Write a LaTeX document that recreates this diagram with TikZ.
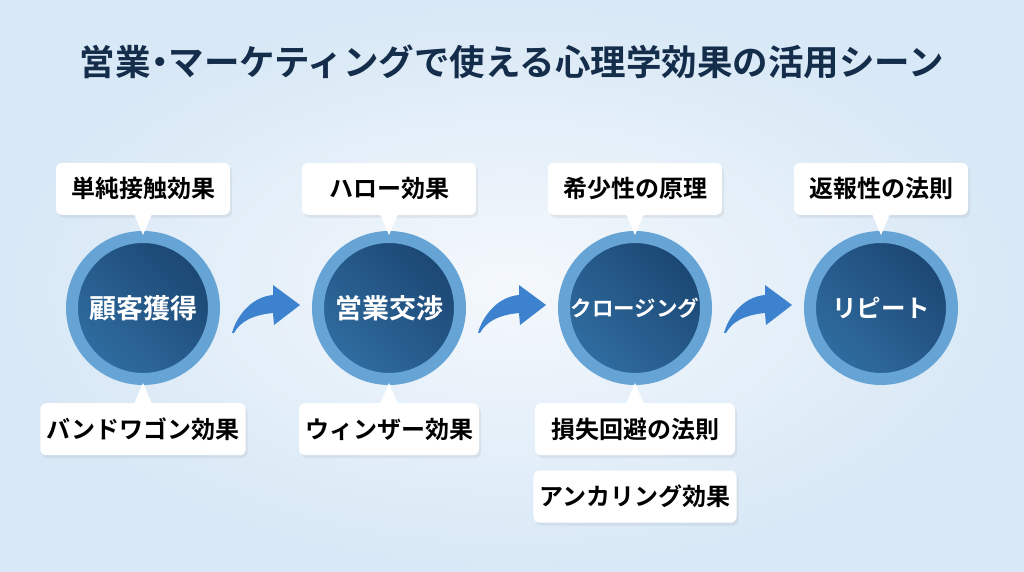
\documentclass[tikz,border=0pt]{standalone}
\usepackage{fontspec}
\newfontfamily\jp{Noto Sans CJK JP}[BoldFont={Noto Sans CJK JP Bold}]
\usetikzlibrary{positioning, shadows, calc}

\definecolor{titleblue}{HTML}{142D4B}
\definecolor{bgmid}{HTML}{F4F8FC}
\definecolor{bgedge}{HTML}{D8E8F6}
\definecolor{ringblue}{HTML}{66A4D5}
\definecolor{corelight}{HTML}{306DA1}
\definecolor{coredark}{HTML}{1B4672}
\definecolor{arrowblue}{HTML}{3D82CF}

\begin{document}
\begin{tikzpicture}[
                x=1pt, y=1pt,
                title/.style={text=titleblue, font=\jp\bfseries\fontsize{35.5}{40}\selectfont},
                stage/.style={circle, minimum size=142pt, inner sep=0pt, draw=ringblue, line width=12pt,
                              left color=corelight, right color=coredark, shading angle=135,
                              text=white, font=\jp\bfseries\fontsize{27}{32}\selectfont},
                tag/.style={rectangle, rounded corners=6pt, fill=white, minimum width=174pt, minimum height=52pt,
                            inner xsep=6pt, text=black, font=\jp\bfseries\fontsize{24}{28}\selectfont,
                            drop shadow={opacity=0.12, shadow xshift=2pt, shadow yshift=-3pt}},
                pointer/.style={fill=white},
                flow/.style={fill=arrowblue},
                flowarrow/.pic={
                    \fill[flow] (0,0) .. controls (4,15) and (18,36) .. (41,38) -- (41,48) -- (68,28)
                        -- (42,8) -- (41,20) .. controls (20,18) and (8,11) .. (2,0) -- cycle;
                }
            ]

            % Hintergrund
            \useasboundingbox (0,0) rectangle (1024,572);
            \shade[inner color=bgmid, outer color=bgedge] (0,0) rectangle (1024,572);

            % Titel
            \node[title] (ttl) at (512,510) {営業\kern-0.25em・\kern-0.25emマーケティングで使える心理学効果の活用シーン};

            % Stufen
            \node[stage] (s1) at (143,264) {顧客獲得};
            \node[stage] (s2) at (389,264) {営業交渉};
            \node[stage, font=\jp\bfseries\fontsize{21.5}{26}\selectfont] (s3) at (635,264) {クロージング};
            \node[stage, font=\jp\bfseries\fontsize{24.5}{29}\selectfont] (s4) at (881,264) {リピート};

            % Effekte oben
            \node[tag, above=16pt of s1] (t1) {単純接触効果};
            \node[tag, above=16pt of s2] (t2) {ハロー効果};
            \node[tag, above=16pt of s3] (t3) {希少性の原理};
            \node[tag, above=16pt of s4] (t4) {返報性の法則};

            % Effekte unten
            \node[tag, below=18pt of s1] (b1) {バンドワゴン効果};
            \node[tag, below=18pt of s2] (b2) {ウィンザー効果};
            \node[tag, minimum width=200pt, below=18pt of s3] (b3) {損失回避の法則};
            \node[tag, minimum width=200pt, below=15pt of b3] (b4) {アンカリング効果};

            % Spitzen an den Kaesten
            \fill[pointer] ([xshift=-9pt, yshift=1pt]t1.south) -- ([xshift=9pt, yshift=1pt]t1.south) -- ([yshift=-20pt]t1.south) -- cycle;
            \fill[pointer] ([xshift=-9pt, yshift=1pt]t2.south) -- ([xshift=9pt, yshift=1pt]t2.south) -- ([yshift=-20pt]t2.south) -- cycle;
            \fill[pointer] ([xshift=-9pt, yshift=1pt]t3.south) -- ([xshift=9pt, yshift=1pt]t3.south) -- ([yshift=-20pt]t3.south) -- cycle;
            \fill[pointer] ([xshift=-9pt, yshift=1pt]t4.south) -- ([xshift=9pt, yshift=1pt]t4.south) -- ([yshift=-20pt]t4.south) -- cycle;

            \fill[pointer] ([xshift=-9pt, yshift=-1pt]b1.north) -- ([xshift=9pt, yshift=-1pt]b1.north) -- ([yshift=20pt]b1.north) -- cycle;
            \fill[pointer] ([xshift=-9pt, yshift=-1pt]b2.north) -- ([xshift=9pt, yshift=-1pt]b2.north) -- ([yshift=20pt]b2.north) -- cycle;
            \fill[pointer] ([xshift=-9pt, yshift=-1pt]b3.north) -- ([xshift=9pt, yshift=-1pt]b3.north) -- ([yshift=20pt]b3.north) -- cycle;

            % Pfeile zwischen Stufen
            \pic at ($(s1.east)+(12,-25)$) {flowarrow};
            \pic at ($(s2.east)+(12,-25)$) {flowarrow};
            \pic at ($(s3.east)+(12,-25)$) {flowarrow};

        \end{tikzpicture}
\end{document}
